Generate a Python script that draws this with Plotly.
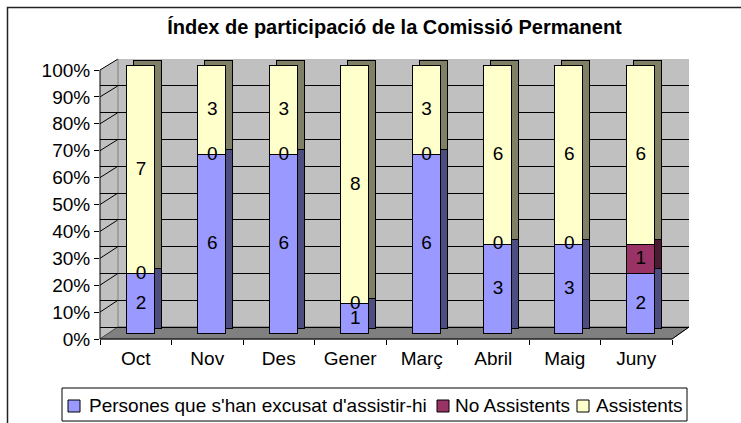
import plotly.graph_objects as go

# ---------------- data ----------------
months = ["Oct", "Nov", "Des", "Gener", "Març", "Abril", "Maig", "Juny"]
excusats = [2, 6, 6, 1, 6, 3, 3, 2]
no_assistents = [0, 0, 0, 0, 0, 0, 0, 1]
assistents = [7, 3, 3, 8, 3, 6, 6, 6]
series_names = ["Persones que s'han excusat d'assistir-hi", "No Assistents", "Assistents"]
y_ticks = list(range(0, 101, 10))

front_colors = ["#9999FF", "#993366", "#FFFFCC"]
side_colors = ["#4D4D80", "#4D1A33", "#808066"]
FONT = "Arial, Liberation Sans, sans-serif"
FS = 19

# ---------------- geometry (pixels) ----------------
FW, FH = 741, 423
L, R, T, B = 100, 689, 59, 339
W, H = R - L, B - T


def px2x(p):
    return (p - L) / W


def px2y(p):
    return (B - p) / H


series = [excusats, no_assistents, assistents]
totals = [sum(v) for v in zip(*series)]
pcts = [[v / t * 100 for v, t in zip(s, totals)] for s in series]
idx = list(range(len(months)))

fig = go.Figure()

# dummy trace for main subplot (grid)
fig.add_trace(go.Scatter(x=[0], y=[0], mode="markers", marker=dict(opacity=0),
                         showlegend=False, hoverinfo="skip", xaxis="x", yaxis="y"))
# categorical axis holder
fig.add_trace(go.Scatter(x=months, y=[0] * len(months), mode="markers", marker=dict(opacity=0),
                         showlegend=False, hoverinfo="skip", xaxis="x2", yaxis="y2"))

# side/top faces (shifted copies)
for name, p, c in zip(series_names, pcts, side_colors):
    fig.add_trace(go.Bar(x=idx, y=p, width=0.39, marker=dict(color=c, line=dict(color="black", width=1)),
                         showlegend=False, hoverinfo="skip", xaxis="x3", yaxis="y3"))

# front faces
for name, p, c in zip(series_names, pcts, front_colors):
    fig.add_trace(go.Bar(x=idx, y=p, width=0.39, name=name, showlegend=False,
                         marker=dict(color=c, line=dict(color="black", width=1)),
                         xaxis="x4", yaxis="y4"))

# value labels
base = [0.0] * len(months)
lab_x, lab_y, lab_t = [], [], []
for s, p in zip(series, pcts):
    for i in idx:
        lab_x.append(i)
        lab_y.append(base[i] + p[i] / 2)
        lab_t.append(str(s[i]))
        base[i] += p[i]
fig.add_trace(go.Scatter(x=lab_x, y=lab_y, text=lab_t, mode="text",
                         textfont=dict(size=FS, color="black", family=FONT),
                         showlegend=False, hoverinfo="skip", xaxis="x4", yaxis="y4"))

# axis ranges
bar_ppu = 71.4
x_rng = [-(141 - L) / bar_ppu, (R - 141) / bar_ppu]
dx = 7 / bar_ppu
grid_ppu = (327 - 59) / 100
lab_ppu = (339 - 70) / 100
bar_ppu_y = (334 - 66) / 100
y_grid = [-(B - 327) / grid_ppu, 100]
y_lab = [0, (B - T) / lab_ppu]
y_bar = [-(B - 334) / bar_ppu_y, 100 + (66 - T) / bar_ppu_y]
dy = 5 / bar_ppu_y

hidden = dict(visible=False, fixedrange=True)
fig.update_layout(
    width=FW, height=FH,
    margin=dict(l=L, r=FW - R, t=T, b=FH - B, autoexpand=False),
    paper_bgcolor="white", plot_bgcolor="white",
    barmode="stack", bargap=0,
    font=dict(family=FONT, size=FS, color="black"),
    title=dict(text="<b>Índex de participació de la Comissió Permanent</b>",
               font=dict(size=20, family=FONT, color="black"),
               x=0.5, xref="paper", xanchor="center", y=1 - 27 / FH, yref="container", yanchor="middle"),
    xaxis=dict(range=x_rng, **hidden),
    yaxis=dict(range=y_grid, showgrid=True, gridcolor="black", gridwidth=1, dtick=10, tick0=0,
               showticklabels=False, ticks="", zeroline=False, showline=False, fixedrange=True),
    xaxis2=dict(type="category", categoryorder="array", categoryarray=months, overlaying="x", anchor="y2",
                range=[-0.5, -0.5 + W / 71.5], tickson="boundaries", ticks="outside", ticklen=5,
                tickcolor="black", showgrid=False, showline=False, zeroline=False, ticklabelstandoff=6,
                tickfont=dict(size=FS, family=FONT, color="black"), fixedrange=True),
    yaxis2=dict(overlaying="y", anchor="x2", range=y_lab, tickvals=y_ticks,
                ticktext=[f"{v}%" for v in y_ticks], ticks="outside", ticklen=5, tickcolor="black",
                showgrid=False, showline=False, zeroline=False,
                tickfont=dict(size=FS, family=FONT, color="black"), fixedrange=True),
    xaxis3=dict(overlaying="x", anchor="y3", range=[x_rng[0] - dx, x_rng[1] - dx], **hidden),
    yaxis3=dict(overlaying="y", anchor="x3", range=[y_bar[0] - dy, y_bar[1] - dy], **hidden),
    xaxis4=dict(overlaying="x", anchor="y4", range=x_rng, **hidden),
    yaxis4=dict(overlaying="y", anchor="x4", range=y_bar, **hidden),
    showlegend=False,
)


def poly(pts):
    return "M " + " L ".join(f"{px2x(a)},{px2y(b)}" for a, b in pts) + " Z"


shapes = []
annotations = []
# back wall
shapes.append(dict(type="rect", xref="paper", yref="paper", x0=px2x(118), x1=px2x(R), y0=px2y(327), y1=px2y(T),
                   fillcolor="#C0C0C0", line=dict(width=0), layer="below"))
# white triangle above left wall
shapes.append(dict(type="path", xref="paper", yref="paper", path=poly([(L - 1, T - 1), (119, T - 1), (L - 1, 70)]),
                   fillcolor="white", line=dict(width=0), layer="between"))
# left wall
shapes.append(dict(type="path", xref="paper", yref="paper", path=poly([(L, 70), (118, T), (118, 327), (L, B)]),
                   fillcolor="#C0C0C0", line=dict(width=0), layer="between"))
# left wall diagonal gridlines
for v in y_ticks:
    shapes.append(dict(type="line", xref="paper", yref="paper",
                       x0=px2x(L), y0=px2y(B - lab_ppu * v), x1=px2x(118), y1=px2y(327 - grid_ppu * v),
                       line=dict(color="black", width=1), layer="between"))
# corner line
shapes.append(dict(type="line", xref="paper", yref="paper", x0=px2x(118), x1=px2x(118), y0=px2y(327), y1=px2y(T),
                   line=dict(color="#808080", width=1), layer="between"))
# floor
shapes.append(dict(type="path", xref="paper", yref="paper", path=poly([(L, B), (118, 327), (R, 327), (672, B)]),
                   fillcolor="#808080", line=dict(color="#606060", width=1), layer="between"))
shapes.append(dict(type="path", xref="paper", yref="paper",
                   path=f"M {px2x(L)},{px2y(B)} L {px2x(672)},{px2y(B)} L {px2x(R)},{px2y(327)}",
                   line=dict(color="black", width=1), layer="above"))
# vertical axis line
shapes.append(dict(type="line", xref="paper", yref="paper", x0=0, x1=0, y0=px2y(B), y1=px2y(70),
                   line=dict(color="black", width=1), layer="above"))
# outer border
shapes.append(dict(type="rect", xref="paper", yref="paper", x0=px2x(7.5), x1=px2x(760), y0=px2y(7.5), y1=px2y(440),
                   line=dict(color="#222222", width=1.5), fillcolor="rgba(0,0,0,0)", layer="below"))

# legend (box, swatches, labels)
shapes.append(dict(type="rect", xref="paper", yref="paper", x0=px2x(62), x1=px2x(687), y0=px2y(388), y1=px2y(421),
                   line=dict(color="black", width=1), fillcolor="white", layer="above"))
swatch_x = [68, 437, 577]
text_x = [87, 453, 594]
for name, c, sx, tx in zip(series_names, front_colors, swatch_x, text_x):
    shapes.append(dict(type="rect", xref="paper", yref="paper", x0=px2x(sx), x1=px2x(sx + 12),
                       y0=px2y(400), y1=px2y(412), fillcolor=c, line=dict(color="black", width=1), layer="above"))
    annotations.append(dict(text=name, xref="paper", yref="paper", x=px2x(tx), y=px2y(405.5),
                            xanchor="left", yanchor="middle", showarrow=False,
                            font=dict(size=FS, family=FONT, color="black")))
fig.update_layout(shapes=shapes, annotations=annotations)

fig.write_html("out.html", config={"displayModeBar": False},
               post_script="document.body.style.margin='0';document.body.style.overflow='hidden';")
